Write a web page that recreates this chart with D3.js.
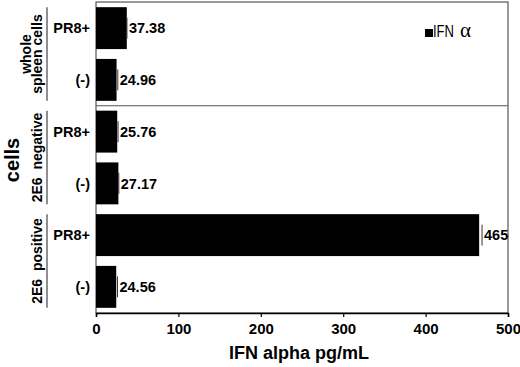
<!DOCTYPE html>
<html>
<head>
<meta charset="utf-8">
<script src="https://cdn.jsdelivr.net/npm/d3@7"></script>
<style>
  body { margin: 0; background: #fff; }
  svg { font-family: Arial, "Liberation Sans", Helvetica, sans-serif; }
</style>
</head>
<body>
<svg id="chart" width="520" height="367"></svg>
<script>
// bars top to bottom
const barIds = ['wsc_pr8', 'wsc_neg', 'neg_pr8', 'neg_neg', 'pos_pr8', 'pos_neg'];
const barLabels = ['PR8+', '(-)', 'PR8+', '(-)', 'PR8+', '(-)'];
const values = [37.38, 24.96, 25.76, 27.17, 465, 24.56];
const errors = [0.2, 1.5, 1, 0.5, 3.5, 1.5];
const valueLabels = ['37.38', '24.96', '25.76', '27.17', '465', '24.56'];

const groups = [
  { lines: ['whole', 'spleen cells'], first: 0, last: 1 },
  { lines: ['2E6  negative'], first: 2, last: 3 },
  { lines: ['2E6  positive'], first: 4, last: 5 }
];
const xTicks = [0, 100, 200, 300, 400, 500];

const plotL = 96, plotR = 508, plotT = 2, plotB = 313;

const svg = d3.select('#chart');

const x = d3.scaleLinear().domain([0, 500]).range([plotL, plotR]);
const y = d3.scaleBand().domain(barIds).range([plotT, plotB])
  .paddingInner(0.19).paddingOuter(0.1);

// frame
svg.append('rect')
  .attr('x', plotL).attr('y', plotT)
  .attr('width', plotR - plotL).attr('height', plotB - plotT)
  .attr('fill', 'none').attr('stroke', '#555').attr('stroke-width', 1.2);

// separator after first group
const sepY = y(barIds[1]) + y.bandwidth() + y.step() * y.paddingInner() / 2;
svg.append('line')
  .attr('x1', plotL).attr('x2', plotR).attr('y1', sepY).attr('y2', sepY)
  .attr('stroke', '#555').attr('stroke-width', 1.2);

// bars
svg.selectAll('rect.bar').data(values).enter().append('rect')
  .attr('class', 'bar')
  .attr('x', x(0))
  .attr('y', (d, i) => y(barIds[i]))
  .attr('width', d => x(d) - x(0))
  .attr('height', y.bandwidth())
  .attr('fill', '#000');

// error bars
svg.selectAll('line.err').data(values).enter().append('line')
  .attr('class', 'err')
  .attr('x1', (d, i) => x(d + errors[i]))
  .attr('x2', (d, i) => x(d + errors[i]))
  .attr('y1', (d, i) => y(barIds[i]) + y.bandwidth() * 0.25)
  .attr('y2', (d, i) => y(barIds[i]) + y.bandwidth() * 0.75)
  .attr('stroke', '#333').attr('stroke-width', 1);

// value labels
svg.selectAll('text.val').data(values).enter().append('text')
  .attr('class', 'val')
  .attr('x', (d, i) => x(d + errors[i]) + 2)
  .attr('y', (d, i) => y(barIds[i]) + y.bandwidth() / 2)
  .attr('dy', '0.36em')
  .attr('font-size', 14.5).attr('font-weight', 'bold')
  .text((d, i) => valueLabels[i]);

// category labels
svg.selectAll('text.cat').data(barLabels).enter().append('text')
  .attr('class', 'cat')
  .attr('x', 90)
  .attr('y', (d, i) => y(barIds[i]) + y.bandwidth() / 2)
  .attr('dy', '0.36em')
  .attr('text-anchor', 'end')
  .attr('font-size', 14.5).attr('font-weight', 'bold')
  .text(d => d);

// group brackets + labels
groups.forEach(g => {
  const y0 = y(barIds[g.first]);
  const y1 = y(barIds[g.last]) + y.bandwidth();
  svg.append('line')
    .attr('x1', 47).attr('x2', 47).attr('y1', y0).attr('y2', y1)
    .attr('stroke', '#444').attr('stroke-width', 1.2);
  const cy = (y0 + y1) / 2;
  const n = g.lines.length;
  g.lines.forEach((t, k) => {
    const bx = 42 - (n - 1 - k) * 11.5;
    svg.append('text')
      .attr('transform', `translate(${bx},${cy}) rotate(-90)`)
      .attr('text-anchor', 'middle')
      .attr('font-size', 14).attr('font-weight', 'bold')
      .style('white-space', 'pre')
      .text(t);
  });
});

// y title
svg.append('text')
  .attr('transform', `translate(19,160) rotate(-90)`)
  .attr('text-anchor', 'middle')
  .attr('font-size', 20).attr('font-weight', 'bold')
  .text('cells');

// x axis
const xAxis = d3.axisBottom(x).tickValues(xTicks).tickSize(4).tickPadding(6);
const ax = svg.append('g').attr('transform', `translate(0,${plotB})`).call(xAxis);
ax.select('.domain').attr('stroke', '#000').attr('stroke-width', 1.5);
ax.selectAll('.tick line').attr('stroke', '#000').attr('stroke-width', 1.2);
ax.selectAll('.tick text')
  .attr('font-family', 'Arial, "Liberation Sans", sans-serif')
  .attr('font-size', 15).attr('font-weight', 'bold').attr('fill', '#000');

svg.append('text')
  .attr('x', 299).attr('y', 359)
  .attr('text-anchor', 'middle')
  .attr('font-size', 18).attr('font-weight', 'bold')
  .text('IFN alpha pg/mL');

// legend
svg.append('rect').attr('x', 425).attr('y', 29).attr('width', 8).attr('height', 8).attr('fill', '#000');
const lg = svg.append('text').attr('x', 433).attr('y', 37).attr('font-size', 17);
lg.append('tspan').attr('textLength', 21).attr('lengthAdjust', 'spacingAndGlyphs').text('IFN');
lg.append('tspan').attr('dx', 6).attr('font-family', '"Liberation Serif", serif').attr('font-size', 21).text('α');
</script>
</body>
</html>
